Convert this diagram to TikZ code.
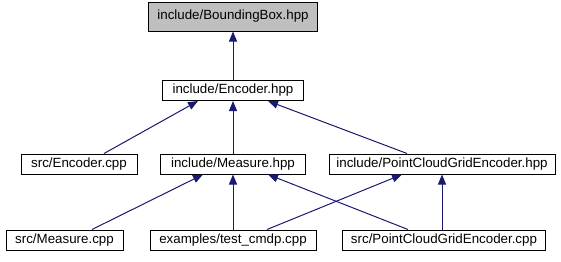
\documentclass[tikz,border=0pt]{standalone}
\usepackage{fontspec}
\setmainfont{Liberation Sans}
\usetikzlibrary{arrows.meta, calc}

\definecolor{edgeblue}{HTML}{191970}
\definecolor{rootgray}{HTML}{BFBFBF}

\begin{document}
\begin{tikzpicture}[
    x=0.75pt, y=-0.75pt,
    file/.style={draw, line width=0.75pt, fill=white, inner sep=0pt, minimum height=15pt, font=\fontsize{10}{12}\selectfont},
    root/.style={file, fill=rootgray, minimum height=21.75pt},
    dep/.style={-{Triangle[length=7.5pt, width=6pt]}, edgeblue, line width=0.75pt}
]
\useasboundingbox (0,0) rectangle (561,261);

% the header and what includes it
\node[root, minimum width=126.75pt] (bbox) at (233,16.5) {include/BoundingBox.hpp};
\node[file, minimum width=105.75pt] (enchpp) at (233,90.5) {include/Encoder.hpp};

\node[file, minimum width=87pt] (srcenc) at (79,164) {src/Encoder.cpp};
\node[file, minimum width=108.75pt] (meashpp) at (233,164) {include/Measure.hpp};
\node[file, minimum width=169.5pt] (pcgehpp) at (442,164) {include/PointCloudGridEncoder.hpp};

\node[file, minimum width=87.75pt] (srcmeas) at (64.5,240) {src/Measure.cpp};
\node[file, minimum width=124.5pt] (cmdp) at (233,240) {examples/test\_cmdp.cpp};
\node[file, minimum width=152.25pt] (srcpcge) at (444,240) {src/PointCloudGridEncoder.cpp};

% include edges
\draw[dep] (enchpp) -- (bbox);
\draw[dep] ($(srcenc.north)+(25,0)$) -- ($(enchpp.south)+(-35,0)$);
\draw[dep] (meashpp) -- (enchpp);
\draw[dep] ($(pcgehpp.north)+(-35,0)$) -- ($(enchpp.south)+(35,0)$);
\draw[dep] ($(srcmeas.north)+(27.5,0)$) -- ($(meashpp.south)+(-30,0)$);
\draw[dep] (cmdp) -- (meashpp);
\draw[dep] ($(srcpcge.north)+(-36,0)$) -- ($(meashpp.south)+(35,0)$);
\draw[dep] ($(cmdp.north)+(34,0)$) -- ($(pcgehpp.south)+(-40,0)$);
\draw[dep] ($(srcpcge.north)+(-2,0)$) -- (pcgehpp.south);

\end{tikzpicture}
\end{document}
